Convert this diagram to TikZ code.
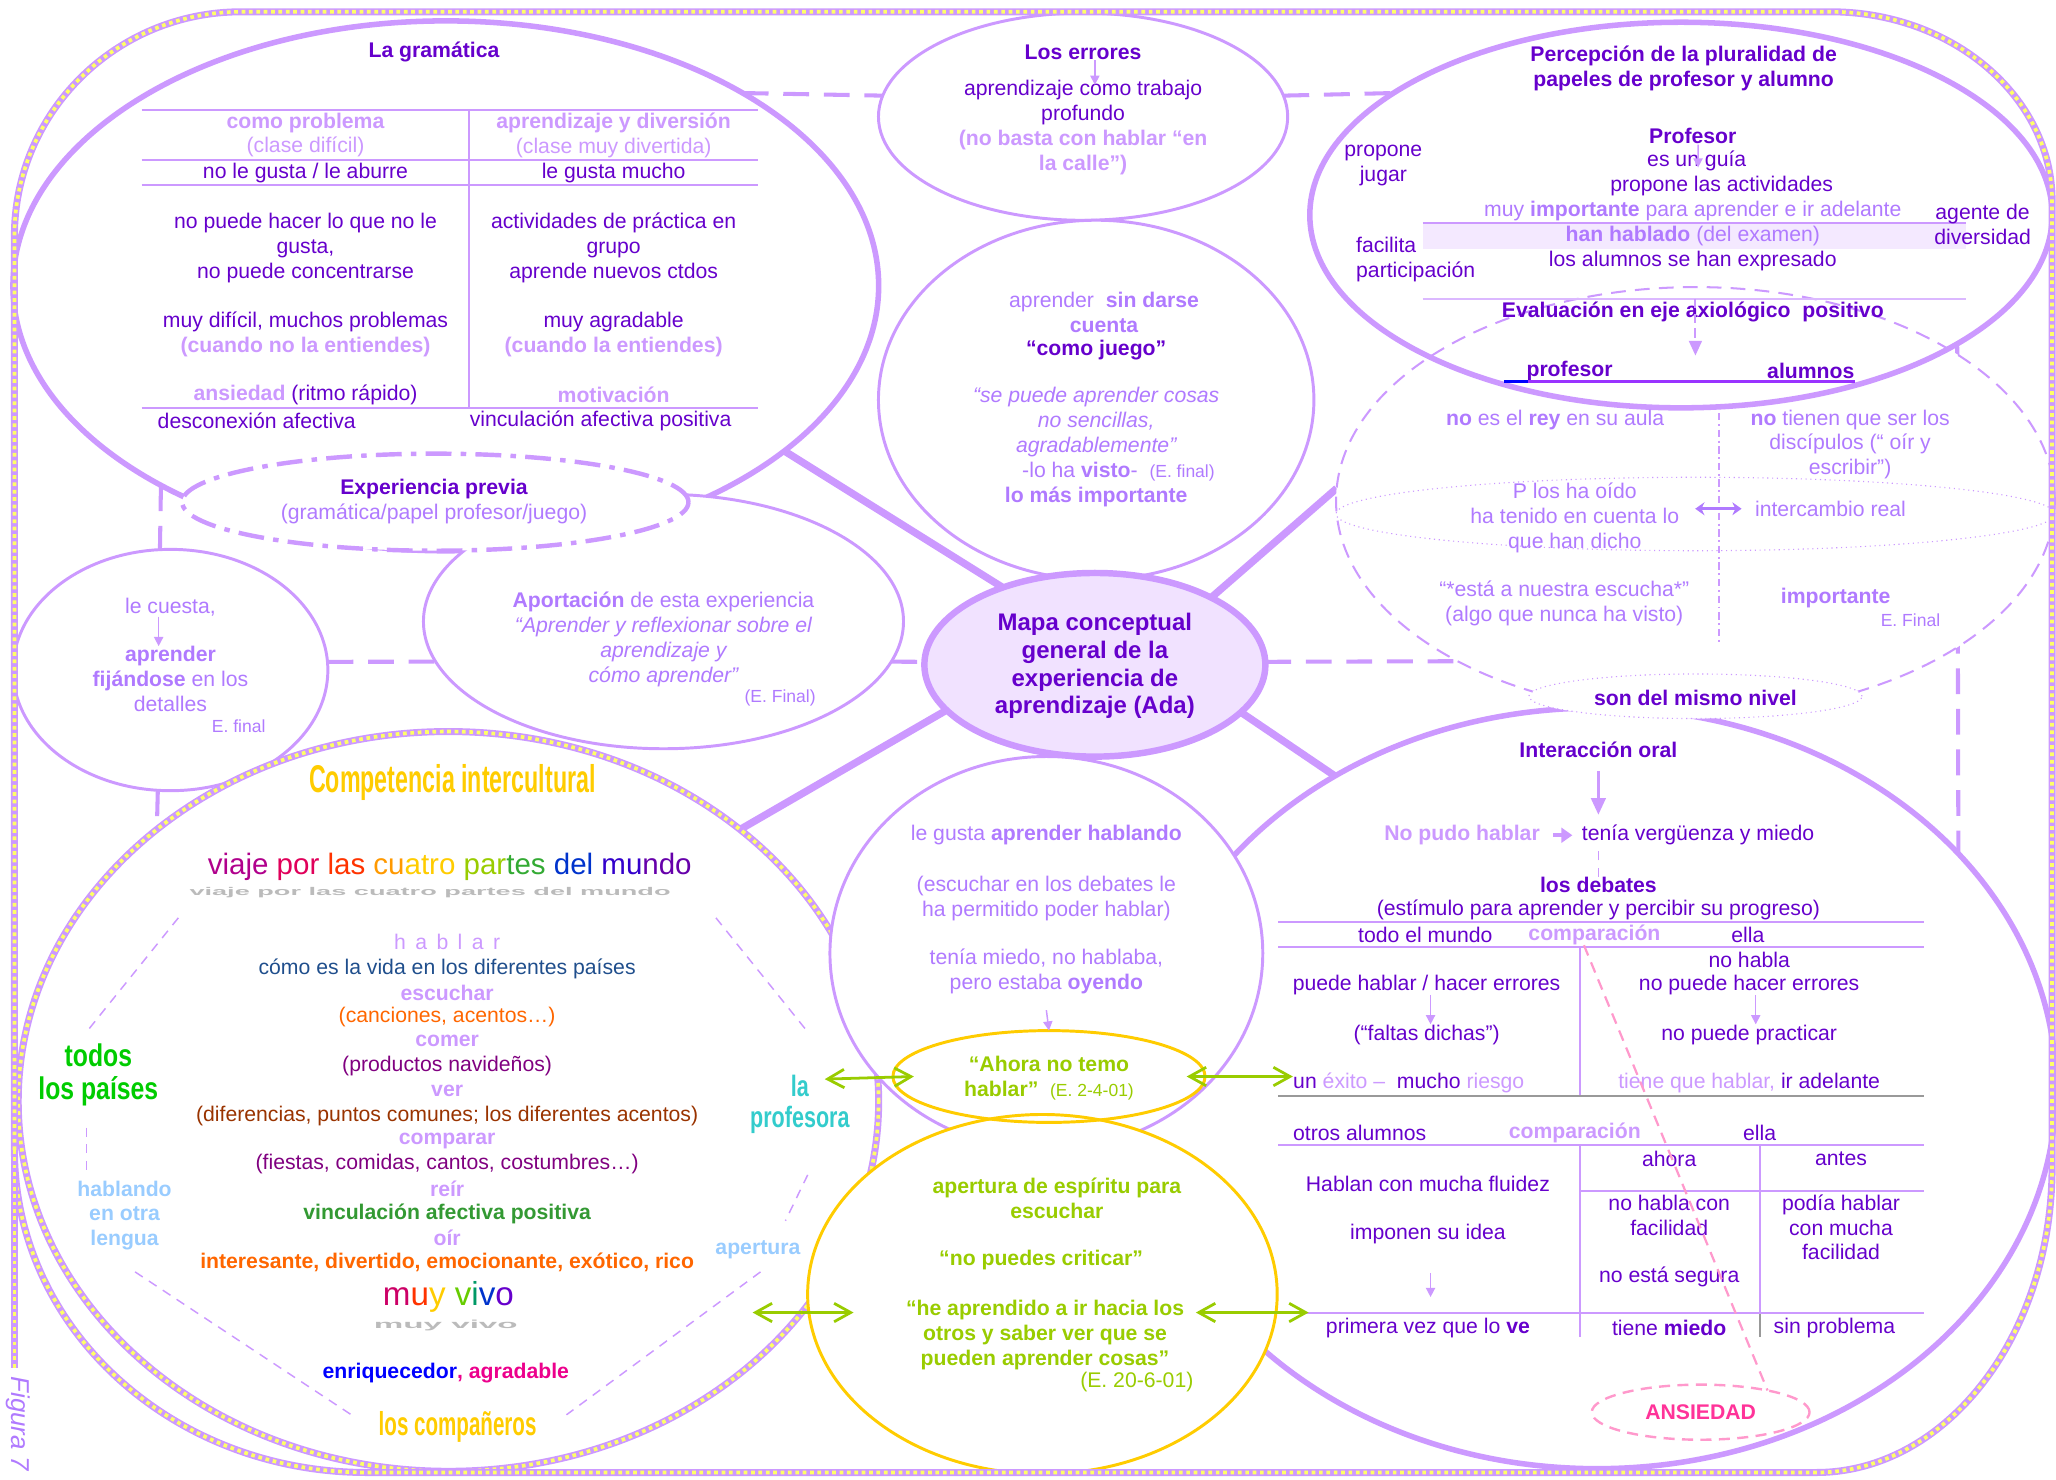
\documentclass[tikz,border=0pt]{standalone}
\usepackage{fontspec}
\setmainfont{Liberation Sans}
\usepackage{graphicx}
\usepackage{tikz}
\usetikzlibrary{calc,shapes.geometric,arrows.meta}

\definecolor{lav}{HTML}{CC99FF}
\definecolor{dpurp}{HTML}{6600CC}
\definecolor{mpurp}{HTML}{B07AFF}
\definecolor{chk}{HTML}{FFFF66}
\definecolor{gold}{HTML}{FFCC00}
\definecolor{ygreen}{HTML}{99CC00}
\definecolor{navyblue}{HTML}{1F4E8C}
\definecolor{orng}{HTML}{FF6600}
\definecolor{plum}{HTML}{800080}
\definecolor{brwn}{HTML}{993300}
\definecolor{leaf}{HTML}{339933}
\definecolor{skyb}{HTML}{99CCFF}
\definecolor{turq}{HTML}{33CCCC}
\definecolor{brightgreen}{HTML}{00CC00}
\definecolor{pinkline}{HTML}{FF99CC}
\definecolor{pinktext}{HTML}{FF3399}
\definecolor{shade}{HTML}{BBBBBB}
\definecolor{violetline}{HTML}{9933FF}

\newcommand{\bodyfs}{\fontsize{11.5}{13.5}\selectfont}
\newcommand{\smallfs}{\fontsize{9.5}{11}\selectfont}
\newcommand{\mapfs}{\fontsize{13}{15}\selectfont}

\newcommand{\worldtrip}{\textcolor[HTML]{B0008C}{viaje} \textcolor[HTML]{E0005A}{por} \textcolor[HTML]{FF3300}{las} \textcolor[HTML]{FF9900}{cu}\textcolor[HTML]{FFCC00}{atro} \textcolor[HTML]{99CC00}{par}\textcolor[HTML]{33AA33}{tes} \textcolor[HTML]{0033CC}{del} \textcolor[HTML]{3300CC}{mu}\textcolor[HTML]{6600AA}{ndo}}
\newcommand{\lively}{\textcolor[HTML]{CC0066}{m}\textcolor[HTML]{FF3300}{u}\textcolor[HTML]{FFCC00}{y} \textcolor[HTML]{66CC00}{v}\textcolor[HTML]{009966}{i}\textcolor[HTML]{0033CC}{v}\textcolor[HTML]{6600CC}{o}}

\pgfdeclarelayer{bg}
\pgfsetlayers{bg,main}

\begin{document}
\begin{tikzpicture}[
        x=0.025cm, y=-0.025cm,
        txt/.style={
            inner sep=0pt,
            align=center,
            font=\bodyfs
        },
        dp/.style={txt, text=dpurp},
        mp/.style={txt, text=mpurp},
        lp/.style={txt, text=lav},
        bold/.style={font=\bodyfs\bfseries},
        ital/.style={font=\bodyfs\itshape},
        bubble/.style 2 args={
            ellipse,
            draw=lav,
            inner sep=0pt,
            outer sep=0pt,
            minimum width=#1*0.05cm,
            minimum height=#2*0.05cm
        },
        thickbub/.style={line width=3pt},
        thinbub/.style={line width=1.6pt, fill=white},
        checker/.style={
            draw=lav,
            line width=3.8pt,
            postaction={draw=chk, line width=2pt, dash pattern=on 2pt off 2pt}
        },
        link/.style={draw=lav, line width=4pt},
        dlink/.style={draw=lav, line width=2.2pt, dash pattern=on 14pt off 8pt},
        thindash/.style={draw=lav, line width=0.8pt, dash pattern=on 5pt off 4pt},
        tabline/.style={draw=lav, line width=1.1pt},
        smallarrow/.style={draw=lav, line width=0.8pt, -{Triangle[length=5pt,width=5pt]}},
        midarrow/.style={draw=lav, line width=1.2pt, -{Triangle[length=9pt,width=8pt]}},
        garrow/.style={draw=ygreen, line width=1.5pt, {Straight Barb[length=9pt,width=10pt]}-{Straight Barb[length=9pt,width=10pt]}}
    ]

        \useasboundingbox (0,0) rectangle (1568,1128);

        % Bubbles, back to front
        \node[bubble={350}{290}, thickbub, fill=white] (inter) at (1218,830) {};
        \node[bubble={330}{202}, thickbub, fill=white] (gram) at (340,218) {};
        \node[bubble={183}{97}, thinbub] (aport) at (506,474) {};
        \node[bubble={120}{92}, thinbub] (cuesta) at (130,511) {};
        \node[bubble={328}{282}, checker] (comp) at (342,840) {};
        \node[bubble={156}{79}, thinbub] (errores) at (826,89) {};
        \node[bubble={166}{137}, thinbub] (sindarse) at (836,305) {};
        \node[bubble={274}{163}, line width=1.1pt, dash pattern=on 8pt off 5pt, fill=white] (evalc) at (1293,382) {};
        \node[bubble={283}{147}, thickbub] (percep) at (1282,164) {};
        \node[bubble={274}{28}, line width=0.6pt, dotted] (dialogo) at (1293,392) {};
        \node[bubble={193}{37}, line width=2.4pt, dash pattern=on 14pt off 5pt on 3pt off 5pt, fill=white] (expe) at (332,383) {};
        \node[bubble={130}{70}, line width=3.5pt, fill=lav!28] (mapa) at (835,507) {};
        \node[bubble={165}{150}, thinbub] (hablando) at (798,727) {};
        \node[bubble={179}{137}, draw=gold, line width=1.6pt, fill=white] (apertbub) at (795,987) {};
        \node[bubble={119}{35}, draw=gold, line width=1.6pt] (ahora) at (800,821) {};
        \node[bubble={127}{17}, line width=0.6pt, dotted, fill=white] (mismo) at (1293,531) {};
        \node[bubble={83}{21}, draw=pinkline, line width=1.3pt, dash pattern=on 6pt off 4pt] (ansiedad) at (1297,1077) {};

        % Links behind the bubbles
        \begin{pgfonlayer}{bg}
            \draw[link] (mapa.140) -- (gram.334);
            \draw[link] (mapa.30) -- (evalc.178);
            \draw[link] (mapa.197) -- (comp.43);
            \draw[link] (mapa.342) -- (inter.130);
            \draw[dlink] (gram.33) -- (errores.174);
            \draw[dlink] (errores.6) -- (percep.157);
            \draw[dlink] (gram.215) -- (cuesta.95);
            \draw[dlink] (cuesta.3) -- (aport.190);
            \draw[dlink] (aport.350) -- (mapa.179);
            \draw[dlink] (mapa.1) -- (evalc.214);
            \draw[dlink] (percep.335) -- (inter.33);
            \draw[dlink] (cuesta.264) -- (comp.137);
        \end{pgfonlayer}

        % La gramatica
        \draw[tabline] (108,84) -- (578,84);
        \draw[tabline] (108,122) -- (578,122);
        \draw[tabline] (108,141) -- (578,141);
        \draw[tabline] (108,311) -- (578,311);
        \draw[tabline] (358,84) -- (358,311);
        \node[dp, bold] (gtitle) at (331,40) {La gramática};
        \node[lp] (gprob) at (233,103) {\textbf{como problema}\\(clase difícil)};
        \node[lp] (gdiv) at (468,103) {\textbf{aprendizaje y diversión}\\(clase muy divertida)};
        \node[dp] (gnogusta) at (233,132) {no le gusta / le aburre};
        \node[dp] (ggusta) at (468,132) {le gusta mucho};
        \node[dp] (gnopuede) at (233,189) {no puede hacer lo que no le\\gusta,\\no puede concentrarse};
        \node[dp] (gactiv) at (468,189) {actividades de práctica en\\grupo\\aprende nuevos ctdos};
        \node[dp] (gdificil) at (233,255) {muy difícil, muchos problemas\\\textcolor{lav}{\textbf{(cuando no la entiendes)}}};
        \node[dp] (gagrad) at (468,255) {muy agradable\\\textcolor{lav}{\textbf{(cuando la entiendes)}}};
        \node[dp] (gansied) at (233,301) {\textcolor{lav}{\textbf{ansiedad}} (ritmo rápido)};
        \node[lp, bold] (gmotiv) at (468,301) {motivación};
        \node[dp, anchor=west] (gdescon) at (120,321) {desconexión afectiva};
        \node[dp, anchor=west] (gvincul) at (358,321) {vinculación afectiva positiva};

        % Experiencia previa
        \node[dp, bold] (expetit) at (331,373) {Experiencia previa};
        \node[mp] (expetxt) at (331,392) {(gramática/papel profesor/juego)};

        % Los errores
        \node[dp, bold] (errtit) at (826,40) {Los errores};
        \node[dp] (errtxt) at (826,78) {aprendizaje como trabajo\\profundo};
        \node[lp, bold] (errcalle) at (826,116) {(no basta con hablar “en\\la calle”)};
        \draw[smallarrow] ([xshift=0.225cm]errtit.south) -- ([xshift=0.225cm,yshift=-0.1cm]errtxt.north);

        % Aprender sin darse cuenta
        \node[mp] (juego1) at (842,238) {aprender\ \ \textbf{sin darse}\\\textbf{cuenta}};
        \node[dp, bold] (juego2) at (836,267) {“como juego”};
        \node[mp, ital] (juego3) at (836,322) {“se puede aprender cosas\\no sencillas,\\agradablemente”};
        \node[mp] (juego4) at (853,360) {-lo ha \textbf{visto}-\ \ {\smallfs (E. final)}};
        \node[mp, bold] (juego5) at (836,379) {lo más importante};

        % Percepcion de la pluralidad
        \fill[lav!22] (1085,170) rectangle (1499,190);
        \draw[tabline] (1085,170) -- (1499,170);
        \draw[lav!70, line width=0.9pt] (1085,228) -- (1499,228);
        \node[dp, bold] (pertit) at (1284,52) {Percepción de la pluralidad de\\papeles de profesor y alumno};
        \node[dp, bold] (proftit) at (1291,104) {Profesor};
        \node[dp] (guia) at (1294,123) {es un guía};
        \node[dp] (propone) at (1313,142) {propone las actividades};
        \node[mp] (importa) at (1291,161) {muy \textbf{importante} para aprender e ir adelante};
        \node[mp] (hablado) at (1291,180) {\textbf{han hablado} (del examen)};
        \node[dp] (expresado) at (1291,199) {los alumnos se han expresado};
        \node[dp] (jugar) at (1055,126) {propone\\jugar};
        \node[dp, anchor=west, align=left] (facilita) at (1034,198) {facilita\\participación};
        \node[dp] (agente) at (1512,171) {agente de\\diversidad};
        \node[dp, bold] (evaltit) at (1291,238) {Evaluación en eje axiológico\ \ positivo};
        \draw[smallarrow] ([xshift=0.1cm]proftit.south) -- ([xshift=0.025cm,yshift=-0.12cm]guia.center);
        \coordinate (evaltop) at (1293,228);
        \node[dp, bold] (profesor) at (1197,283) {profesor};
        \node[dp, bold] (alumnos) at (1381,283) {alumnos};
        \draw[draw=lav, line width=1.1pt, dash pattern=on 5pt off 3pt, -{Triangle[length=8pt,width=7pt]}] (evaltop) -- ($(profesor.north -| evaltop)+(0,-4)$);
        \draw[violetline, line width=1.4pt] (1165,291) -- (1415,291);
        \draw[blue, line width=1.4pt] (1147,291) -- (1165,291);

        % Evaluacion en eje axiologico
        \draw[lav, line width=1pt, dash pattern=on 4pt off 2pt on 1pt off 2pt] (1311,315) -- (1311,490);
        \node[mp] (rey) at (1186,320) {\textbf{no} es el \textbf{rey} en su aula};
        \node[mp] (discip) at (1411,339) {\textbf{no} tienen que ser los\\discípulos (“ oír y\\escribir”)};
        \node[mp] (oido) at (1201,395) {P los ha oído\\ha tenido en cuenta lo\\que han dicho};
        \node[mp] (real) at (1396,388) {intercambio real};
        \draw[mpurp, line width=1.6pt, {Stealth[length=5pt,width=7pt]}-{Stealth[length=5pt,width=7pt]}] ($(oido.east |- real.west)+(12,0)$) -- ($(real.west)+(-10,0)$);
        \node[mp] (escucha) at (1193,460) {“*está a nuestra escucha*”\\(algo que nunca ha visto)};
        \node[mp, bold] (importante) at (1400,456) {importante};
        \node[mp, font=\smallfs] (efinal1) at (1457,473) {E. Final};
        \node[dp, bold] (mismotxt) at (1293,532) {son del mismo nivel};

        % Le cuesta
        \node[mp] (cuestatxt) at (130,463) {le cuesta,};
        \node[mp] (fijandose) at (130,518) {\textbf{aprender}\\\textbf{fijándose} en los\\detalles};
        \node[mp, font=\smallfs] (efinal2) at (182,554) {E. final};
        \draw[smallarrow] ([xshift=-0.225cm]cuestatxt.south) -- ([xshift=-0.225cm]fijandose.north);

        % Aportacion
        \node[mp] (aporttit) at (506,459) {\textbf{Aportación} de esta experiencia};
        \node[mp, ital] (aportcita) at (506,497) {“Aprender y reflexionar sobre el\\aprendizaje y\\cómo aprender”};
        \node[mp, font=\smallfs] (efinal3) at (595,532) {(E. Final)};

        % Mapa conceptual
        \node[dp, font=\mapfs\bfseries] (mapatxt) at (835,508) {Mapa conceptual\\general de la\\experiencia de\\aprendizaje (Ada)};

        % Competencia intercultural
        \draw[thindash] (136,700) -- (66,787);
        \draw[thindash] (546,700) -- (616,787);
        \draw[thindash] (66,860) -- (66,896);
        \draw[thindash] (616,896) -- (599,931);
        \draw[thindash] (103,970) -- (268,1079);
        \draw[thindash] (580,970) -- (432,1079);
        \node[txt, text=gold, font=\fontsize{21}{22}\selectfont\bfseries] (comptit) at (345,597) {\scalebox{0.6}[1]{Competencia intercultural}};
        \node[txt, text=shade, font=\fontsize{16}{18}\selectfont\bfseries] (viajesombra) at (328,681) {\scalebox{0.92}[0.38]{viaje por las cuatro partes del mundo}};
        \node[txt, font=\fontsize{16}{18}\selectfont] (viaje) at (343,661) {\worldtrip};
        \node[lp] (hablar) at (341,718) {h\ \,a\ \,b\ \,l\ \,a\ \,r};
        \node[txt, text=navyblue] (vida) at (341,739) {cómo es la vida en los diferentes países};
        \node[lp, bold] (escuchar) at (341,757) {escuchar};
        \node[txt, text=orng] (canciones) at (341,776) {(canciones, acentos…)};
        \node[lp, bold] (comer) at (341,794) {comer};
        \node[txt, text=plum] (productos) at (341,813) {(productos navideños)};
        \node[lp, bold] (ver) at (341,832) {ver};
        \node[txt, text=brwn] (diferencias) at (341,851) {(diferencias, puntos comunes; los diferentes acentos)};
        \node[lp, bold] (comparar) at (341,870) {comparar};
        \node[txt, text=plum] (fiestas) at (341,888) {(fiestas, comidas, cantos, costumbres…)};
        \node[lp, bold] (reir) at (341,907) {reír};
        \node[txt, bold, text=leaf] (vinculo) at (341,926) {vinculación afectiva positiva};
        \node[lp, bold] (oir) at (341,944) {oír};
        \node[txt, bold, text=orng] (interesante) at (341,963) {interesante, divertido, emocionante, exótico, rico};
        \node[txt, text=shade, font=\fontsize{18}{20}\selectfont\bfseries] (vivosombra) at (340,1011) {\scalebox{1}[0.35]{muy vivo}};
        \node[txt, font=\fontsize{18}{20}\selectfont] (vivo) at (342,989) {\lively};
        \node[txt, bold] (enriq) at (340,1047) {\textcolor{blue}{enriquecedor}\textcolor{magenta}{, agradable}};
        \node[txt, text=gold, font=\fontsize{18}{20}\selectfont\bfseries] (companeros) at (349,1088) {\scalebox{0.62}[1]{los compañeros}};
        \node[txt, text=brightgreen, font=\fontsize{17}{17.8}\selectfont\bfseries] (todos) at (75,820) {\scalebox{0.79}[1]{todos}\\\scalebox{0.79}[1]{los países}};
        \node[txt, bold, text=skyb] (otralengua) at (95,927) {hablando\\en otra\\lengua};
        \node[txt, text=turq, font=\fontsize{16}{17}\selectfont\bfseries] (profesora) at (610,842) {\scalebox{0.73}[1]{la}\\\scalebox{0.73}[1]{profesora}};
        \node[txt, bold, text=skyb] (apertura) at (578,953) {apertura};

        % Aprender hablando
        \node[mp] (gustahablar) at (798,637) {le gusta \textbf{aprender hablando}};
        \node[mp] (debatesle) at (798,685) {(escuchar en los debates le\\ha permitido poder hablar)};
        \node[mp] (oyendo) at (798,741) {tenía miedo, no hablaba,\\pero estaba \textbf{oyendo}};
        \draw[smallarrow] ([yshift=-0.3cm]oyendo.south) -- (ahora.north);

        % Citas en amarillo
        \node[txt, text=ygreen] (ahoratxt) at (800,822) {\textbf{“Ahora no temo}\\\textbf{hablar”}\ \ {\smallfs (E. 2-4-01)}};
        \node[txt, bold, text=ygreen] (espiritu) at (806,914) {apertura de espíritu para\\escuchar};
        \node[txt, bold, text=ygreen] (criticar) at (794,961) {“no puedes criticar”};
        \node[txt, bold, text=ygreen] (haciaotros) at (797,1018) {“he aprendido a ir hacia los\\otros y saber ver que se\\pueden aprender cosas”};
        \node[txt, text=ygreen] (e2061) at (867,1054) {(E. 20-6-01)};

        % Interaccion oral
        \draw[tabline] (975,703) -- (1467,703);
        \draw[tabline] (975,722) -- (1467,722);
        \draw[lav, line width=0.9pt] (1205,722) -- (1205,835);
        \draw[gray!80, line width=1.4pt] (975,836) -- (1467,836);
        \draw[tabline] (975,873) -- (1467,873);
        \draw[lav, line width=0.9pt] (1205,873) -- (1205,1020);
        \draw[lav, line width=0.9pt] (1342,873) -- (1342,1001);
        \draw[gray!80, line width=0.9pt] (1342,1001) -- (1342,1020);
        \draw[tabline] (1205,908) -- (1467,908);
        \draw[tabline] (975,1001) -- (1467,1001);
        \node[dp, bold] (intertit) at (1219,572) {Interacción oral};
        \draw[midarrow] ([yshift=-0.25cm]intertit.south) -- ++(0,33);
        \node[lp, bold] (nopudo) at (1115,637) {No pudo hablar};
        \node[dp] (tenia) at (1295,637) {tenía vergüenza y miedo};
        \draw[draw=lav, line width=2pt, -{Triangle[length=6pt,width=8pt]}] ([xshift=0.25cm]nopudo.east) -- ([xshift=-0.175cm]tenia.west);
        \node[dp, bold] (debates) at (1219,675) {los debates};
        \draw[thindash] (debates.north) -- ++(0,-25);
        \node[dp] (estimulo) at (1219,694) {(estímulo para aprender y percibir su progreso)};
        \node[dp] (todoelmundo) at (1087,713) {todo el mundo};
        \node[lp, bold] (cmp1) at (1216,713) {comparación};
        \node[dp] (ella1) at (1333,713) {ella};
        \node[dp] (nohabla) at (1334,732) {no habla};
        \node[dp] (puede) at (1088,751) {puede hablar / hacer errores};
        \node[dp] (nopuedeerr) at (1334,751) {no puede hacer errores};
        \node[dp] (faltas) at (1088,789) {(“faltas dichas”)};
        \node[dp] (practicar) at (1334,789) {no puede practicar};
        \draw[smallarrow] ([xshift=0.075cm]puede.south) -- ([xshift=0.075cm]faltas.north);
        \draw[smallarrow] ([xshift=0.125cm]nopuedeerr.south) -- ([xshift=0.125cm]practicar.north);
        \node[dp, anchor=west] (exito) at (986,826) {un \textcolor{lav}{éxito –}\ \ mucho \textcolor{lav}{riesgo}};
        \node[dp] (adelante) at (1334,826) {\textcolor{lav}{tiene que hablar,} ir adelante};
        \node[dp] (otros) at (1037,864) {otros alumnos};
        \node[lp, bold] (cmp2) at (1201,864) {comparación};
        \node[dp] (ella2) at (1342,864) {ella};
        \node[dp] (ahoratab) at (1273,884) {ahora};
        \node[dp] (antes) at (1404,884) {antes};
        \node[dp] (fluidez) at (1089,903) {Hablan con mucha fluidez};
        \node[dp] (imponen) at (1089,941) {imponen su idea};
        \node[dp] (facilidad) at (1273,927) {no habla con\\facilidad};
        \node[dp] (podia) at (1404,936) {podía hablar\\con mucha\\facilidad};
        \node[dp] (segura) at (1273,974) {no está segura};
        \node[dp] (primera) at (1089,1013) {primera vez que lo \textbf{ve}};
        \node[dp] (miedo) at (1273,1013) {tiene \textbf{miedo}};
        \node[dp] (sinproblema) at (1399,1013) {sin problema};
        \draw[smallarrow] ([xshift=0.05cm,yshift=-0.55cm]imponen.south) -- ([xshift=0.05cm,yshift=0.4cm]primera.north);
        \node[txt, bold, text=pinktext] (ansiedadtxt) at (1297,1077) {ANSIEDAD};
        \draw[draw=pinkline, line width=1.2pt, dash pattern=on 6pt off 4pt] ([xshift=-0.2cm]cmp1.south) -- (ansiedad.18);

        % Green double arrows
        \coordinate (profarrow) at (629,823);
        \coordinate (tabarrow) at (998,1001);
        \coordinate (comparrow) at (574,1001);
        \draw[garrow] (profarrow) -- ([xshift=0.4cm]ahora.west);
        \draw[garrow] ([xshift=-0.35cm]ahora.east) -- (exito.west |- ahora.east);
        \draw[garrow] (comparrow) -- ([xshift=0.875cm,yshift=-0.35cm]apertbub.west);
        \draw[garrow] ([xshift=-1.55cm,yshift=-0.35cm]apertbub.east) -- (tabarrow);

        % Outer frame
        \draw[checker] (11,877) -- (11,180) .. controls (11,86) and (88,9) .. (184,9) -- (1396,9)
            .. controls (1489,9) and (1565,74) .. (1565,153) -- (1565,890)
            .. controls (1565,1019) and (1484,1123) .. (1385,1123) -- (280,1123)
            .. controls (131,1123) and (11,1013) .. (11,877);
        \draw[checker] (11,877) -- (11,1043);
        \node[txt, text=mpurp, font=\fontsize{14}{14}\selectfont\itshape, rotate=-90] (figura) at (14,1086) {Figura 7};

    \end{tikzpicture}
\end{document}
